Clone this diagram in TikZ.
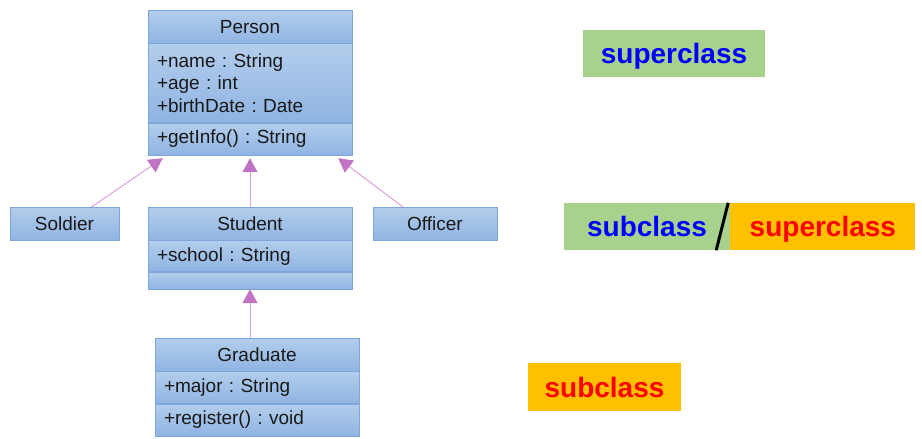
\documentclass[tikz,border=0pt]{standalone}
\usepackage{fontspec}
\setmainfont{Liberation Sans}
\frenchspacing
\usetikzlibrary{positioning,arrows.meta}
\definecolor{clsline}{RGB}{126,166,216}
\definecolor{clstop}{RGB}{179,205,236}
\definecolor{clsbot}{RGB}{143,180,226}
\definecolor{gentip}{RGB}{194,116,196}
\definecolor{genline}{RGB}{222,160,222}
\definecolor{tagg}{RGB}{169,209,142}
\definecolor{tago}{RGB}{255,192,0}
\begin{document}
\begin{tikzpicture}[x=1pt,y=1pt,font=\fontsize{19}{22.5}\selectfont,
	c/.style={draw=clsline,top color=clstop,bottom color=clsbot,inner xsep=9pt,inner ysep=0pt,text width=186pt,align=left,anchor=north,text=black!90},
	h/.style={c,align=center,minimum height=33pt},
	g/.style={draw=genline,line width=1pt,-{Triangle[length=14pt,width=15pt,color=gentip]}},
	t/.style={minimum height=47pt,inner sep=0pt,text height=26pt,text depth=6pt,font=\fontsize{28}{32}\selectfont\bfseries}]
	\useasboundingbox (0,0) rectangle (922,-439);
	\node[h] (person) at (250,-10) {Person};
	\node[c,below=0pt of person,minimum height=79pt] (pattr) {+name : String\\+age : int\\+birthDate : Date};
	\node[c,below=0pt of pattr,minimum height=32pt] (pmeth) {+getInfo() : String};
	\node[h,text width=91pt] (soldier) at (64.5,-207) {Soldier};
	\node[h] (student) at (250,-207) {Student};
	\node[c,below=0pt of student,minimum height=31pt] (sattr) {+school : String};
	\node[c,below=0pt of sattr,minimum height=17pt] (sempty) {};
	\node[h,text width=106pt] (officer) at (435,-207) {Officer};
	\node[h] (grad) at (257,-338) {Graduate};
	\node[c,below=0pt of grad,minimum height=32pt] (gattr) {+major : String};
	\node[c,below=0pt of gattr,minimum height=32pt] (gmeth) {+register() : void};
	\draw[g] ([xshift=27pt]soldier.north) -- ([xshift=15pt,yshift=-3pt]pmeth.south west);
	\draw[g] (student.north) -- ([yshift=-3pt]pmeth.south);
	\draw[g] ([xshift=-32pt]officer.north) -- ([xshift=-14pt,yshift=-3pt]pmeth.south east);
	\draw[g] ([xshift=-7pt]grad.north) -- (sempty.south);
	\node[t,fill=tagg,text=blue,minimum width=182pt] (sup1) at (674,-53) {superclass};
	\node[t,fill=tagg,text=blue,minimum width=166pt] (sub2) at (647,-226.5) {subclass};
	\node[t,fill=tago,text=red,minimum width=185pt,right=0pt of sub2] (sup2) {superclass};
	\draw[line width=3pt] ([xshift=-2pt]sub2.north east) -- ([xshift=-14pt]sub2.south east);
	\node[t,fill=tago,text=red,minimum width=153pt,minimum height=48pt] (sub3) at (604.5,-387) {subclass};
\end{tikzpicture}
\end{document}
